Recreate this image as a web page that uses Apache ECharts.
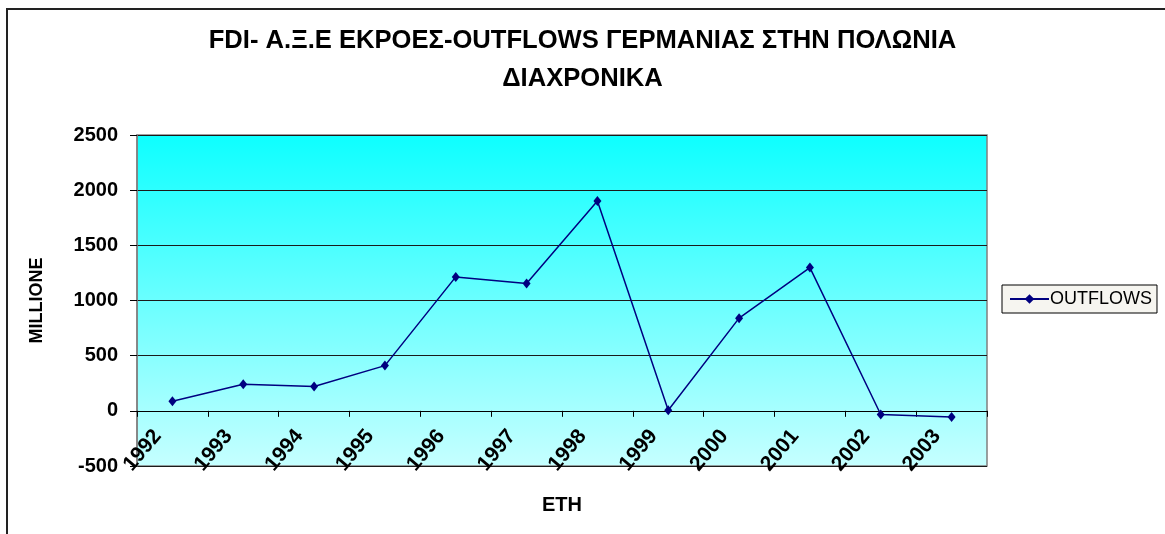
<!DOCTYPE html>
<html>
<head>
<meta charset="utf-8">
<script src="https://cdn.jsdelivr.net/npm/echarts@6/dist/echarts.min.js"></script>
<style>
html,body{margin:0;padding:0;background:#fff;}
#chart{width:1165px;height:534px;}
</style>
</head>
<body>
<div id="chart"></div>
<script>
const titleText = 'FDI- Α.Ξ.Ε ΕΚΡΟΕΣ-OUTFLOWS ΓΕΡΜΑΝΙΑΣ ΣΤΗΝ ΠΟΛΩΝΙΑ\nΔΙΑΧΡΟΝΙΚΑ';
const years = ['1992','1993','1994','1995','1996','1997','1998','1999','2000','2001','2002','2003'];
const outflows = [87, 241, 220, 410, 1214, 1154, 1901, 5, 840, 1298, -33, -57];
const seriesName = 'OUTFLOWS';
const yAxisName = 'MILLIONE';
const xAxisName = 'ΕΤΗ';
const yMin = -500, yMax = 2500, yStep = 500;

const FONT = '"Liberation Sans", Arial, sans-serif';
const GRID_TOP = 135, GRID_BOTTOM = 68, H = 534;
const gridH = H - GRID_TOP - GRID_BOTTOM;
// move the category axis up to the zero line of the value axis
const zeroOffset = -gridH * (0 - yMin) / (yMax - yMin);

const chart = echarts.init(document.getElementById('chart'), null, {renderer: 'canvas'});
chart.setOption({
  backgroundColor: '#ffffff',
  animation: false,
  title: {
    text: titleText,
    left: 'center',
    top: 17,
    textStyle: {fontFamily: FONT, fontWeight: 'bold', fontSize: 25.6, color: '#000', lineHeight: 38}
  },
  graphic: [{
    type: 'rect', silent: true, z: 0,
    shape: {x: 7, y: 9, width: 1300, height: 700},
    style: {fill: 'none', stroke: '#222', lineWidth: 2}
  }],
  legend: {
    left: 1002, top: 285,
    orient: 'vertical',
    padding: [5, 5, 5, 7],
    backgroundColor: '#f6f5f0',
    borderColor: '#000', borderWidth: 1, borderRadius: 0,
    itemWidth: 39, itemHeight: 12, itemGap: 5,
    textStyle: {fontFamily: FONT, fontSize: 18, color: '#000', padding: [0,0,0,-4]},
    data: [seriesName]
  },
  grid: {
    left: 137, right: 178, top: GRID_TOP, bottom: GRID_BOTTOM,
    containLabel: false,
    outerBoundsMode: 'none',
    show: true,
    borderColor: '#808080', borderWidth: 1.5,
    backgroundColor: new echarts.graphic.LinearGradient(0, 0, 0, 1, [
      {offset: 0, color: '#0dffff'},
      {offset: 1, color: '#c6ffff'}
    ])
  },
  xAxis: {
    type: 'category',
    data: years,
    boundaryGap: true,
    position: 'bottom',
    offset: zeroOffset,
    name: xAxisName,
    nameLocation: 'middle',
    nameGap: 85,
    nameTextStyle: {fontFamily: FONT, fontWeight: 'bold', fontSize: 20, color: '#000'},
    axisLine: {onZero: false, lineStyle: {color: '#000', width: 1}},
    axisTick: {show: true, alignWithLabel: false, length: 6, lineStyle: {color: '#000'}},
    axisLabel: {
      rotate: 50, margin: 4, interval: 0,
      fontFamily: FONT, fontWeight: 'bold', fontSize: 21, color: '#000',
      padding: [0, 23, 0, 0]
    },
    splitLine: {show: false}
  },
  yAxis: {
    type: 'value',
    min: yMin, max: yMax, interval: yStep,
    name: yAxisName,
    nameLocation: 'middle',
    nameGap: 91,
    nameRotate: 90,
    nameTextStyle: {fontFamily: FONT, fontWeight: 'bold', fontSize: 18, color: '#000'},
    axisLine: {show: true, lineStyle: {color: '#808080', width: 1.5}},
    axisTick: {show: true, length: 7, lineStyle: {color: '#000'}},
    axisLabel: {margin: 19, fontFamily: FONT, fontWeight: 'bold', fontSize: 20, color: '#000',
      formatter: function (v) { return String(v); }},
    splitLine: {show: true, lineStyle: {color: '#1a1a1a', width: 1}}
  },
  series: [{
    name: seriesName,
    type: 'line',
    data: outflows,
    symbol: 'diamond',
    symbolSize: [8, 10],
    showSymbol: true,
    itemStyle: {color: '#000080'},
    lineStyle: {color: '#000080', width: 1.5}
  }]
});
</script>
</body>
</html>
